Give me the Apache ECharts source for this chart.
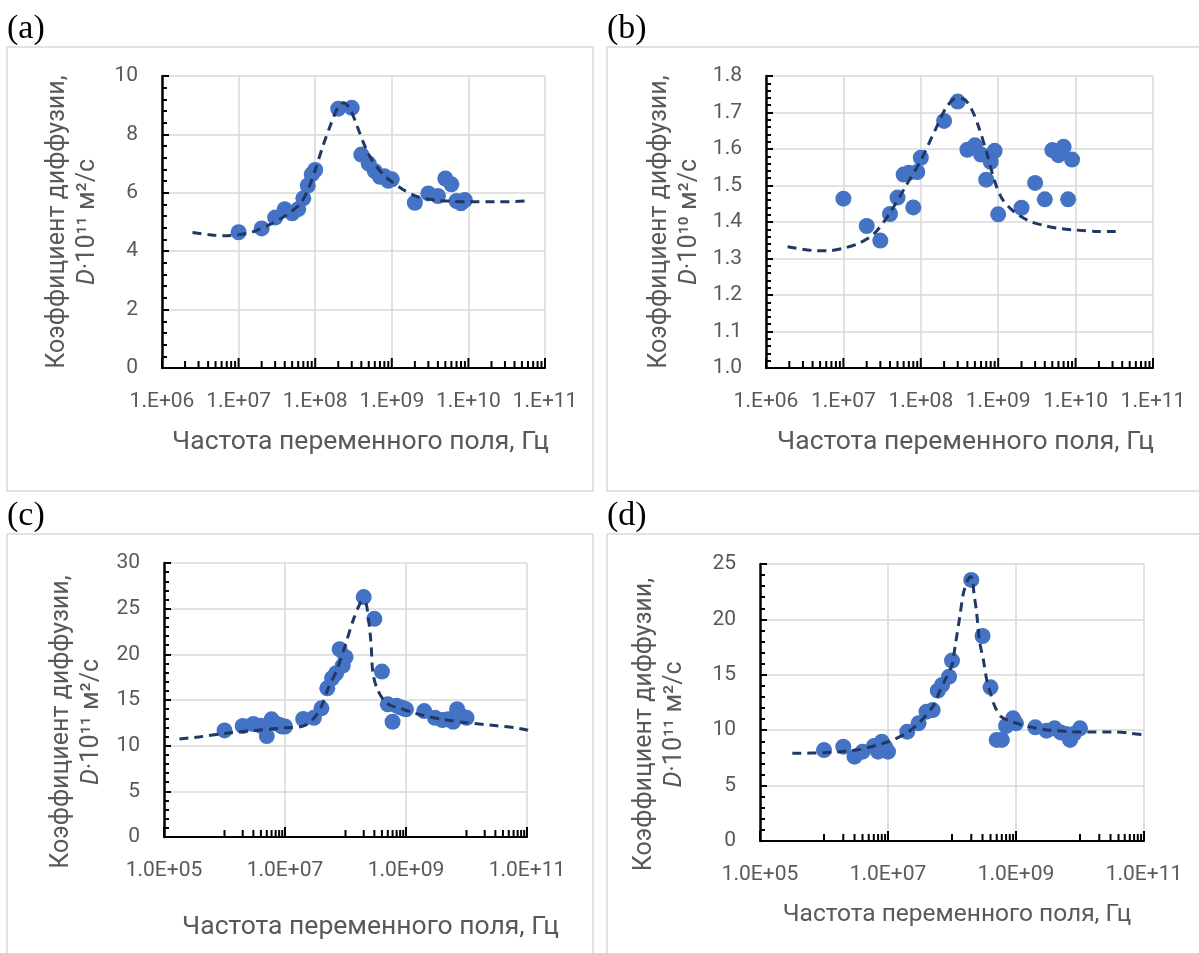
<!DOCTYPE html>
<html><head><meta charset="utf-8">
<script src="https://cdn.jsdelivr.net/npm/echarts@6/dist/echarts.min.js"></script>
<style>html,body{margin:0;padding:0;background:#fff}#c{width:1199px;height:953px}</style>
</head><body><div id="c"></div>
<script>
// ---------- data ----------
// (a)
const freqA = [1e7,2e7,3e7,4e7,5e7,6e7,7e7,8e7,9e7,1e8,2e8,3e8,4e8,5e8,6e8,7e8,8e8,9e8,1e9,2e9,3e9,4e9,5e9,6e9,7e9,8e9,9e9];
const diffA = [4.65,4.78,5.15,5.44,5.30,5.44,5.81,6.25,6.63,6.78,8.88,8.91,7.31,7.00,6.74,6.55,6.57,6.41,6.46,5.66,5.98,5.89,6.49,6.29,5.72,5.64,5.75];
const fitFreqA = [2.5e6,4e6,6.3e6,1e7,1.6e7,2.5e7,4e7,6.3e7,8e7,1e8,1.26e8,1.6e8,2e8,2.35e8,2.9e8,3.55e8,4.4e8,5.5e8,7.9e8,1e9,1.45e9,2.15e9,4e9,6.3e9,1e10,2.5e10,5.7e10];
const fitA = [4.64,4.57,4.53,4.56,4.68,4.90,5.20,5.61,6.09,6.78,7.60,8.35,8.95,9.08,8.83,8.26,7.63,7.12,6.60,6.38,6.09,5.87,5.74,5.71,5.69,5.69,5.72];
// (b)
const freqB = [1e7,2e7,3e7,4e7,5e7,6e7,7e7,8e7,9e7,1e8,2e8,3e8,4e8,5e8,6e8,7e8,8e8,9e8,1e9,2e9,3e9,4e9,5e9,6e9,7e9,8e9,9e9];
const diffB = [1.464,1.389,1.349,1.422,1.467,1.530,1.535,1.440,1.537,1.576,1.677,1.730,1.598,1.610,1.585,1.516,1.565,1.595,1.421,1.439,1.507,1.462,1.597,1.583,1.606,1.462,1.571];
const fitFreqB = [1.9e6,4e6,6.3e6,1e7,1.6e7,2.5e7,4e7,6.3e7,1e8,1.6e8,2.15e8,2.8e8,3.55e8,4.5e8,5.6e8,7.1e8,8.9e8,1.12e9,1.6e9,2.5e9,4e9,6.3e9,1e10,2e10,3.3e10];
const fitB = [1.332,1.322,1.321,1.328,1.342,1.368,1.425,1.496,1.569,1.660,1.715,1.738,1.737,1.710,1.660,1.590,1.515,1.464,1.428,1.403,1.390,1.382,1.378,1.374,1.374];
// (c)
const freqC = [1e6,2e6,3e6,4e6,5e6,6e6,7e6,8e6,9e6,1e7,2e7,3e7,4e7,5e7,6e7,7e7,8e7,9e7,1e8,2e8,3e8,4e8,5e8,6e8,7e8,8e8,9e8,1e9,2e9,3e9,4e9,5e9,6e9,7e9,8e9,1e10];
const diffC = [11.67,12.15,12.37,12.18,11.05,12.88,12.44,12.3,12.1,12.1,12.92,13.06,14.09,16.28,17.38,17.93,20.56,18.77,19.69,26.27,23.89,18.11,14.53,12.62,14.38,14.2,14.1,13.98,13.79,13.06,12.81,12.9,12.62,14.0,13.3,13.06];
const fitFreqC = [1.8e5,4e5,1e6,3.2e6,1e7,2e7,3e7,4e7,5.2e7,7.2e7,9.8e7,1.35e8,1.75e8,2e8,2.24e8,2.63e8,2.82e8,3.3e8,4.27e8,5.6e8,7.9e8,1.26e9,2e9,4e9,1e10,3.2e10,6.3e10,1e11,1.15e11];
const fitC = [10.72,10.98,11.34,11.67,11.96,12.15,13.0,14.3,16.3,18.3,20.9,23.8,25.6,25.9,25.3,21.4,18.1,16.3,15.0,14.4,14.1,13.65,13.28,12.88,12.51,12.18,11.96,11.71,11.5];
// (d)
const freqD = [1e6,2e6,3e6,4e6,6e6,7e6,8e6,9e6,1e7,2e7,3e7,4e7,5e7,6e7,7e7,9e7,1e8,2e8,3e8,4e8,5e8,6e8,7e8,9e8,1e9,2e9,3e9,4e9,5e9,6e9,7e9,8e9,1e10];
const diffD = [8.21,8.51,7.61,8.06,8.57,8.06,8.96,8.5,8.06,9.87,10.62,11.67,11.82,13.57,14.08,14.83,16.28,23.56,18.5,13.87,9.12,9.12,10.38,11.07,10.62,10.26,9.96,10.17,9.8,9.66,9.12,9.66,10.17];
const fitFreqD = [3.2e5,1e6,3.2e6,1e7,2e7,3.2e7,5e7,6.3e7,7.9e7,1e8,1.12e8,1.32e8,1.5e8,1.74e8,1.95e8,2.1e8,2.2e8,2.4e8,2.7e8,3.1e8,3.5e8,4e8,4.7e8,5.9e8,8.5e8,1.6e9,3.2e9,1e10,3.2e10,6.3e10,1e11];
const fitD = [7.91,7.97,8.21,8.96,9.78,10.77,12.12,13.4,14.6,15.9,17.6,20.2,22.3,23.5,23.85,23.6,22.35,20.85,18.0,16.3,14.5,13.3,12.1,11.2,10.77,10.32,10.02,9.84,9.84,9.72,9.57];

// ---------- axis tick labels ----------
const xLabelExpAB = [6,7,8,9,10,11];
const xLabelExpCD = [5,7,9,11];
const xMinorDecadesAB = [6,7,8,9,10];
const xMinorMantAB = [2,3,4,5,6,7,8,9];
const xMinorDecadesCD = [6,8,10];
const xMinorMantCD = [1,2,3,4,5,6,7,8,9];
const xTitle = 'Частота переменного поля, Гц';
const yTitle1 = 'Коэффициент диффузии,';
const yTitle2A = '{i|D}·10¹¹ м²/с';
const yTitle2B = '{i|D}·10¹⁰ м²/с';

// ---------- helpers ----------
const FONT = 'Roboto';
const GRAY = '#595959';
const pad2 = e => (e < 10 ? '0' : '') + e;

function ticksFrom(decades, mants) {
  const out = [];
  decades.forEach(d => mants.forEach(m => out.push(m * Math.pow(10, d))));
  return out;
}

function xAxis(gi, min, max, labelExps, prefix, nameGap, nameSize, split, shift) {
  return {
    type: 'log', logBase: 10, gridIndex: gi, min, max,
    axisLine: {show: true, onZero: false, lineStyle: {color: '#000', width: 2}},
    axisTick: {show: false},
    axisLabel: {color: GRAY, fontFamily: FONT, fontSize: 21, margin: 23,
      formatter: v => { const e = Math.round(Math.log10(v)); return labelExps.includes(e) ? prefix + pad2(e) : ''; }},
    splitLine: {show: split, lineStyle: {color: '#d9d9d9', width: 1.5}},
    name: xTitle, nameLocation: 'middle', nameGap,
    nameTextStyle: {color: GRAY, fontFamily: FONT, fontSize: nameSize, padding: [0, 0, 0, 2 * shift]}
  };
}
function yAxis(gi, min, max, interval, dec, title2, nameGap, shift) {
  return {
    type: 'value', gridIndex: gi, min, max, interval,
    axisLine: {show: true, onZero: false, lineStyle: {color: '#000', width: 2.5}},
    axisTick: {show: true, inside: true, length: 7, lineStyle: {color: '#000', width: 2}},
    minorTick: {show: true, splitNumber: 5, length: 5, lineStyle: {color: '#000', width: 2}},
    axisLabel: {color: GRAY, fontFamily: FONT, fontSize: 21, margin: 24, formatter: v => v.toFixed(dec)},
    splitLine: {show: true, lineStyle: {color: '#d9d9d9', width: 1.5}},
    name: yTitle1 + '\n' + title2, nameLocation: 'middle', nameRotate: 90, nameGap,
    nameTextStyle: {color: GRAY, fontFamily: FONT, fontSize: 25, lineHeight: 30, align: 'center',
      padding: shift > 0 ? [0, shift, 0, 0] : 0,
      rich: {i: {fontStyle: 'italic', color: GRAY, fontFamily: FONT, fontSize: 25, lineHeight: 30}}}
  };
}
function scatter(i, fx, fy) {
  return {type: 'scatter', xAxisIndex: i, yAxisIndex: i, z: 3, symbolSize: 16,
    itemStyle: {color: '#4472C4', opacity: 1}, data: fx.map((f, k) => [f, fy[k]])};
}
function fitLine(i, fx, fy) {
  return {type: 'line', xAxisIndex: i, yAxisIndex: i, z: 4, symbol: 'none', smooth: 0.3, clip: false,
    lineStyle: {color: '#1F3864', width: 3, type: [9, 6]}, data: fx.map((f, k) => [f, fy[k]])};
}
function tickSeries(i, ticks, majors, yMin) {
  return {type: 'custom', xAxisIndex: i, yAxisIndex: i, z: 5, silent: true, clip: false,
    data: ticks.concat(majors).map(f => [f, yMin]), encode: {x: 0, y: 1},
    renderItem: (params, api) => {
      const f = api.value(0);
      const p = api.coord([f, yMin]);
      const major = majors.some(m => Math.abs(m / f - 1) < 1e-9);
      const len = major ? 10 : 7;
      return {type: 'line', shape: {x1: p[0], y1: p[1], x2: p[0], y2: p[1] - len},
        style: {stroke: '#000', lineWidth: 2}};
    }};
}
function gridLineSeries(i, vals, yMin, yMax) {
  return {type: 'custom', xAxisIndex: i, yAxisIndex: i, z: 1, silent: true, clip: false,
    data: vals.map(f => [f, yMin]), encode: {x: 0, y: 1},
    renderItem: (params, api) => {
      const f = api.value(0);
      const p0 = api.coord([f, yMin]);
      const p1 = api.coord([f, yMax]);
      return {type: 'line', shape: {x1: p0[0], y1: p0[1], x2: p1[0], y2: p1[1]},
        style: {stroke: '#d9d9d9', lineWidth: 1.5}};
    }};
}

const majorsAB = xLabelExpAB.map(e => Math.pow(10, e));
const majorsCD = xLabelExpCD.map(e => Math.pow(10, e));
const minorAB = ticksFrom(xMinorDecadesAB, xMinorMantAB);
const minorCD = ticksFrom(xMinorDecadesCD, xMinorMantCD);

const frame = (x, y, w, h) => ({type: 'rect', silent: true, z: -10,
  shape: {x, y, width: w, height: h}, style: {fill: 'none', stroke: '#d9d9d9', lineWidth: 1.5}});
const plabel = (x, y, t) => ({type: 'text', x, y, silent: true,
  style: {text: t, fontFamily: 'Liberation Serif', fontSize: 34, fill: '#000', verticalAlign: 'middle'}});

const option = {
  animation: false,
  backgroundColor: '#fff',
  grid: [
    {left: 162, top: 76, width: 383, height: 292},
    {left: 766, top: 76, width: 387, height: 292},
    {left: 164, top: 563, width: 363, height: 274},
    {left: 760, top: 564, width: 384, height: 277}
  ],
  xAxis: [
    xAxis(0, 1e6, 1e11, xLabelExpAB, '1.E+', 61, 26.5, true, 7),
    xAxis(1, 1e6, 1e11, xLabelExpAB, '1.E+', 61, 26.5, true, 6),
    xAxis(2, 1e5, 1e11, xLabelExpCD, '1.0E+', 77, 26.5, false, 25),
    xAxis(3, 1e5, 1e11, xLabelExpCD, '1.0E+', 61, 24.5, false, 5)
  ],
  yAxis: [
    yAxis(0, 0, 10, 2, 0, yTitle2A, 59, 0),
    yAxis(1, 1.0, 1.8, 0.1, 1, yTitle2B, 61, 0),
    yAxis(2, 0, 30, 5, 0, yTitle2A, 57, 44),
    yAxis(3, 0, 25, 5, 0, yTitle2A, 70, 44)
  ],
  series: [
    gridLineSeries(2, majorsCD.slice(1), 0, 30),
    gridLineSeries(3, majorsCD.slice(1), 0, 25),
    scatter(0, freqA, diffA), fitLine(0, fitFreqA, fitA), tickSeries(0, minorAB, majorsAB, 0),
    scatter(1, freqB, diffB), fitLine(1, fitFreqB, fitB), tickSeries(1, minorAB, majorsAB, 1.0),
    scatter(2, freqC, diffC), fitLine(2, fitFreqC, fitC), tickSeries(2, minorCD, majorsCD, 0),
    scatter(3, freqD, diffD), fitLine(3, fitFreqD, fitD), tickSeries(3, minorCD, majorsCD, 0)
  ],
  graphic: [
    frame(7, 47, 586, 444), frame(607, 47, 600, 444),
    frame(7, 534, 586, 430), frame(607, 534, 600, 430),
    plabel(7, 29, '(a)'), plabel(607, 29, '(b)'),
    plabel(7, 516, '(c)'), plabel(607, 516, '(d)')
  ]
};
const chart = echarts.init(document.getElementById('c'), null, {renderer: 'canvas'});
chart.setOption(option);
</script>
</body></html>
